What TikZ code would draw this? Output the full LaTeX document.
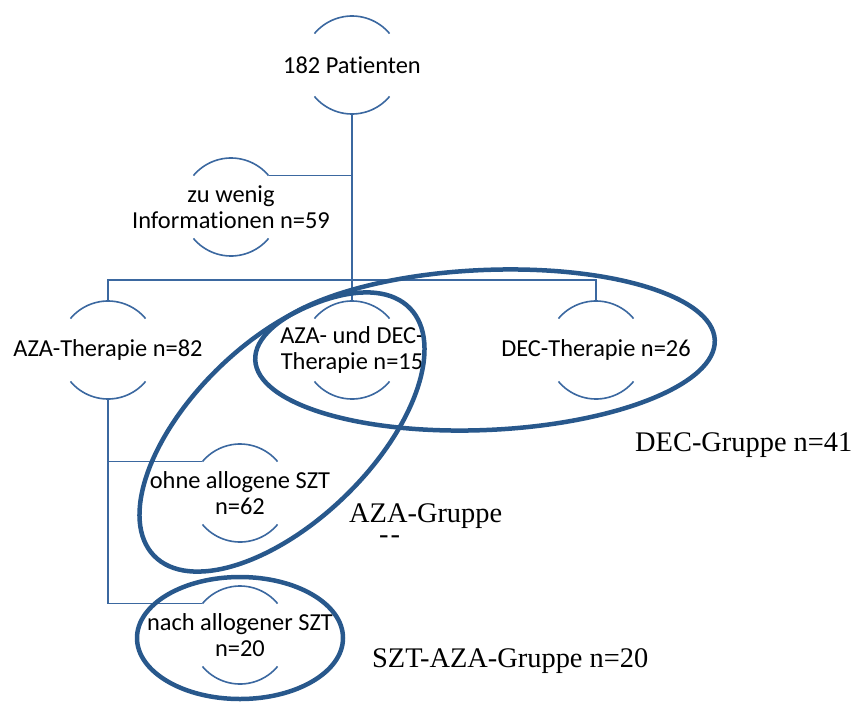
\documentclass[tikz,border=0pt]{standalone}
\usepackage{fontspec}
\setmainfont{Carlito}[Ligatures=NoCommon]
\newfontfamily\grpfont{Liberation Serif}
\definecolor{arcblue}{RGB}{59,104,160}
\definecolor{grpblue}{RGB}{40,88,140}
\begin{document}
\begin{tikzpicture}[x=1pt,y=-1pt]
\tikzset{bub/.style={circle,inner sep=0pt,outer sep=0pt,minimum size=98pt},
  every label/.style={align=center,font=\fontsize{24.4}{26}\selectfont},
  link/.style={arcblue,line width=1.6pt},
  grp/.style={grpblue,line width=4.5pt},
  grplbl/.style={inner sep=0pt,anchor=base west,font=\grpfont\fontsize{28.4}{32}\selectfont}}
\useasboundingbox (0,0) rectangle (858,704);
\node (pat) at (352,65) [bub,label={center:182 Patienten}] {};
\node (info) at (231,207) [bub,label={center:zu wenig\\Informationen n=59}] {};
\node (aza) at (108,350) [bub,label={center:AZA-Therapie n=82}] {};
\node (azadec) at (352,350) [bub,label={center:AZA- und DEC-\\Therapie n=15}] {};
\node (dec) at (596,350) [bub,label={center:DEC-Therapie n=26}] {};
\node (ohne) at (240,493) [bub,label={center:ohne allogene SZT\\n=62}] {};
\node (nach) at (240,635) [bub,label={center:nach allogener SZT\\n=20}] {};
\coordinate (bus) at (352,280);
\foreach \n in {pat,info,aza,azadec,dec,ohne,nach}
  \draw[link] (\n.40) arc[start angle=40,end angle=140,radius=49pt]
              (\n.220) arc[start angle=220,end angle=320,radius=49pt];
\draw[link] (pat.south) -- (azadec.north);
\draw[link] (aza.north) |- (bus) -| (dec.north);
\draw[link] (info.40) -- (info.40 -| pat.south);
\draw[link] (aza.south) |- (ohne.140);
\draw[link] (aza.south) |- (nach.140);
% Gruppen
\draw[grp] (485,350) ellipse [x radius=230pt,y radius=80pt,rotate=2.5];
\draw[grp] (282,432) ellipse [x radius=178pt,y radius=90pt,rotate=44];
\draw[grp] (240,638) ellipse [x radius=103pt,y radius=61pt];
\node (decg) at (635,451) [grplbl] {DEC-Gruppe n=41};
\node (azag) at (349,522) [grplbl] {AZA-Gruppe};
\node (strich) at (379,543) [grplbl] {-\kern2pt-};
\node (sztg) at (372,667) [grplbl] {SZT-AZA-Gruppe n=20};
\end{tikzpicture}
\end{document}
